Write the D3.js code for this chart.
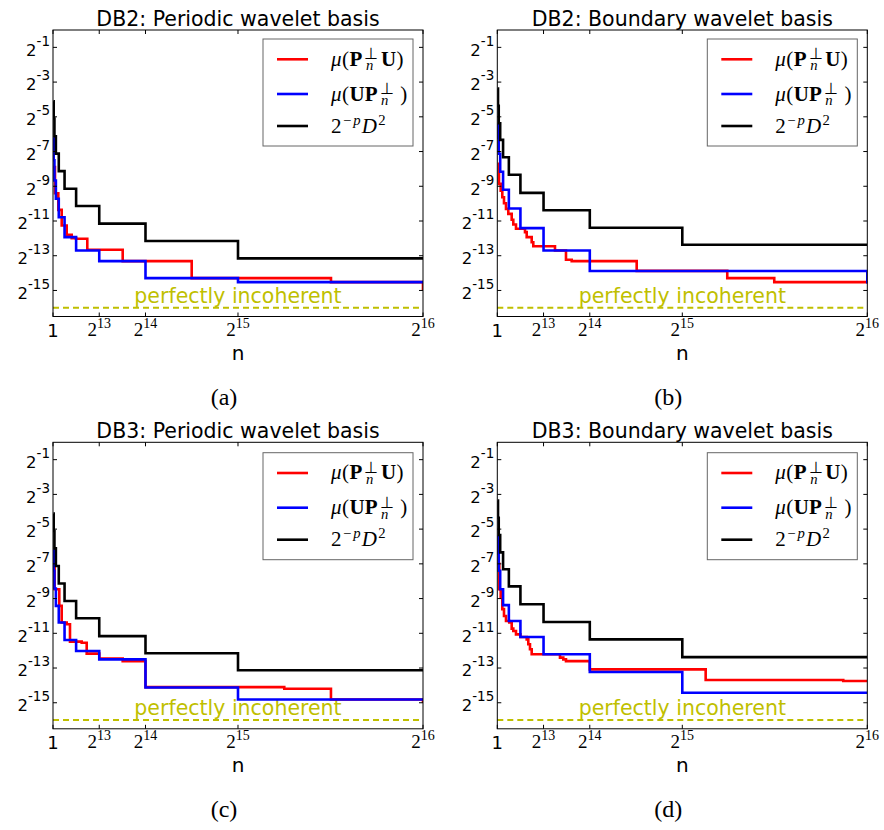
<!DOCTYPE html>
<html><head><meta charset="utf-8">
<script src="https://cdn.jsdelivr.net/npm/d3@7"></script>
<style>
body{margin:0;background:#fff;}
svg{display:block;}
</style></head><body>
<svg id="fig" width="884" height="830"></svg>
<script>
// Coherence of the truncated change-of-basis matrix against n.
// Each series is a step function: [n where a new level starts, log2 of the level].
const panelTitles = ["DB2: Periodic wavelet basis", "DB2: Boundary wavelet basis",
                     "DB3: Periodic wavelet basis", "DB3: Boundary wavelet basis"];
const panelTags = ["(a)", "(b)", "(c)", "(d)"];
const xTickExps = [13, 14, 15, 16];
const yTickExps = [-1, -3, -5, -7, -9, -11, -13, -15];
const nMax = 65536;
const incoherentExp = -16;
const incoherentLabel = "perfectly incoherent";

const db2PeriodicRed = [[64,-7.9],[354,-9.40],[940,-10.36],[1541,-11.26],[2427,-11.79],[3312,-11.99],[4074,-12.02],[6075,-12.66],[12345,-13.31],[24565,-14.29],[49238,-14.52],[65536,-15.0]];
const db2PeriodicBlue = [[64,-6.2],[128,-7.5],[256,-8.67],[512,-9.72],[1024,-10.78],[2048,-11.93],[4096,-12.70],[8192,-13.31],[16384,-14.29],[32768,-14.52],[65536,-14.52]];
const db2PeriodicBound = [[64,-4.1],[128,-5.1],[256,-6.12],[512,-7.12],[1024,-8.13],[2048,-9.14],[4096,-10.14],[8192,-11.15],[16384,-12.15],[32768,-13.15],[65536,-13.15]];

const db2BoundaryRed = [[64,-7.7],[301,-8.86],[602,-9.25],[886,-9.63],[1187,-9.98],[1541,-10.30],[1948,-10.59],[2550,-10.93],[2834,-11.20],[3312,-11.45],[4906,-11.64],[5207,-11.93],[6092,-12.22],[6376,-12.45],[10219,-12.70],[12167,-13.23],[13176,-13.31],[24687,-13.87],[40733,-14.29],[49057,-14.52],[65536,-14.6]];
const db2BoundaryBlue = [[64,-5.4],[128,-6.2],[256,-7.13],[512,-8.16],[1024,-9.2],[2048,-10.28],[4096,-11.41],[8192,-12.70],[16384,-13.88],[65536,-14.6]];
const db2BoundaryBound = [[64,-3.37],[128,-4.37],[256,-5.37],[512,-6.33],[1024,-7.33],[2048,-8.34],[4096,-9.38],[8192,-10.38],[16384,-11.39],[32768,-12.37],[65536,-12.37]];

const db3PeriodicRed = [[64,-7.2],[300,-8.46],[1116,-9.42],[1541,-10.38],[2427,-10.48],[3011,-11.48],[5083,-11.54],[5968,-12.17],[8200,-12.46],[12344,-12.60],[16384,-14.10],[40964,-14.19],[49233,-14.81],[65536,-15.0]];
const db3PeriodicBlue = [[64,-6.2],[128,-7.4],[256,-8.42],[512,-9.42],[1024,-10.38],[2048,-11.39],[4096,-12.02],[8192,-12.50],[16384,-14.12],[32768,-14.81],[65536,-14.81]];
const db3PeriodicBound = [[64,-4.11],[128,-5.11],[256,-6.11],[512,-7.12],[1024,-8.13],[2048,-9.14],[4096,-10.13],[8192,-11.16],[16384,-12.15],[32768,-13.13],[65536,-13.13]];

const db3BoundaryRed = [[64,-7.0],[354,-8.46],[602,-8.94],[886,-9.61],[1187,-10.0],[1541,-10.29],[2125,-10.38],[2550,-10.73],[2834,-10.87],[3312,-11.06],[4096,-11.21],[5207,-11.35],[5490,-11.63],[5791,-11.92],[6092,-12.21],[11104,-12.40],[11689,-12.50],[12167,-12.60],[16384,-13.08],[36908,-13.69],[61277,-13.75],[65536,-13.75]];
const db3BoundaryBlue = [[64,-5.4],[128,-6.4],[256,-7.40],[512,-8.46],[1024,-9.38],[2048,-10.29],[4096,-11.21],[8192,-12.21],[16384,-13.23],[32768,-14.42],[65536,-14.42]];
const db3BoundaryBound = [[64,-3.35],[128,-4.35],[256,-5.34],[512,-6.34],[1024,-7.31],[2048,-8.30],[4096,-9.33],[8192,-10.35],[16384,-11.35],[32768,-12.37],[65536,-12.37]];

const panelSeries = [
  [db2PeriodicRed, db2PeriodicBlue, db2PeriodicBound],
  [db2BoundaryRed, db2BoundaryBlue, db2BoundaryBound],
  [db3PeriodicRed, db3PeriodicBlue, db3PeriodicBound],
  [db3BoundaryRed, db3BoundaryBlue, db3BoundaryBound]
];

// Legend entries as math tokens: [role, text(, subscript)]
const legendLabels = [
  [["greek","μ"],["rm","("],["bf","P"],["stack","⊥","n"],["bf","U"],["rm",")"]],
  [["greek","μ"],["rm","("],["bf","UP"],["stack","⊥","n"],["rm","\u2009)"]],
  [["rm","2"],["sup","−"],["supit","p"],["it","D"],["sup","2"]]
];

// ---- drawing ----
const seriesColors = ["#ff0000", "#0000ff", "#000000"];
const W = 370, H = 286.5;
const origins = [[53, 30], [497.3, 30], [53, 442.3], [497.3, 442.3]];
const SANS = "DejaVu Sans, Verdana, sans-serif";
const SERIF = "Liberation Serif, Times New Roman, serif";

const svg = d3.select("#fig");

// Lays out a small math expression as one text element, one tspan per token.
function drawMath(g, x0, y0, tokens, size) {
  const txt = g.append("text").attr("font-family", SERIF).attr("font-size", size);
  let x = x0;
  const put = (str, px, py, opts) => {
    const s = txt.append("tspan").attr("x", px).attr("y", py).text(str);
    if (opts.size) s.attr("font-size", opts.size);
    if (opts.bold) s.attr("font-weight", "bold");
    if (opts.italic) s.attr("font-style", "italic");
    return s.node().getComputedTextLength();
  };
  tokens.forEach(tok => {
    const role = tok[0];
    if (role === "stack") {
      x += 1.5;
      const wa = put(tok[1], x, y0 - 6.5, { size: size * 0.75 });
      const wb = put(tok[2], x + 1.5, y0 + 4.5, { size: size * 0.7, italic: true });
      x += Math.max(wa, wb + 1.5) + 2.5;
      return;
    }
    const isSup = role === "sup" || role === "supit";
    if (isSup) x += 1;
    const w = put(tok[1], x, isSup ? y0 - 8 : y0, {
      size: isSup ? size * 0.7 : null,
      bold: role === "bf",
      italic: role === "it" || role === "supit" || role === "greek"
    });
    x += w + (isSup ? 1 : 0.5);
  });
}

panelSeries.forEach((series, pi) => {
  const [ox, oy] = origins[pi];
  const g = svg.append("g").attr("transform", `translate(${ox},${oy})`);

  const x = d3.scaleLinear().domain([1, nMax]).range([0, W]);
  const y = d3.scaleLog().base(2).domain([2 ** -16.5, 1]).range([H, 0]);

  const clipId = "clip" + pi;
  g.append("clipPath").attr("id", clipId).append("rect")
    .attr("x", 0).attr("y", 0).attr("width", W).attr("height", H);

  // reference level for a perfectly incoherent basis
  g.append("line")
    .attr("x1", 0).attr("x2", W)
    .attr("y1", y(2 ** incoherentExp)).attr("y2", y(2 ** incoherentExp))
    .attr("stroke", "#bfbf00").attr("stroke-width", 2)
    .attr("stroke-dasharray", "6,4");
  g.append("text")
    .attr("x", x(nMax / 2)).attr("y", y(2 ** incoherentExp) - 5)
    .attr("text-anchor", "middle")
    .attr("font-family", SANS).attr("font-size", 20.5)
    .attr("fill", "#bfbf00")
    .text(incoherentLabel);

  // step curves
  const line = d3.line()
    .x(d => x(d[0]))
    .y(d => y(2 ** d[1]))
    .curve(d3.curveStepAfter);
  const lines = g.append("g").attr("clip-path", `url(#${clipId})`);
  series.forEach((s, si) => {
    lines.append("path")
      .attr("d", line(s))
      .attr("fill", "none")
      .attr("stroke", seriesColors[si])
      .attr("stroke-width", 2.6)
      .attr("stroke-linejoin", "miter");
  });

  // frame
  g.append("rect").attr("x", 0).attr("y", 0).attr("width", W).attr("height", H)
    .attr("fill", "none").attr("stroke", "#000").attr("stroke-width", 1);

  // inward ticks on all four sides
  const tk = 4;
  const xTickVals = [1].concat(xTickExps.map(e => 2 ** e));
  xTickVals.forEach(v => {
    g.append("line").attr("x1", x(v)).attr("x2", x(v)).attr("y1", H).attr("y2", H - tk)
      .attr("stroke", "#000");
    g.append("line").attr("x1", x(v)).attr("x2", x(v)).attr("y1", 0).attr("y2", tk)
      .attr("stroke", "#000");
  });
  yTickExps.forEach(e => {
    const yy = y(2 ** e);
    g.append("line").attr("x1", 0).attr("x2", tk).attr("y1", yy).attr("y2", yy).attr("stroke", "#000");
    g.append("line").attr("x1", W).attr("x2", W - tk).attr("y1", yy).attr("y2", yy).attr("stroke", "#000");
  });

  // x tick labels
  g.append("text").attr("x", x(1)).attr("y", H + 20)
    .attr("text-anchor", "middle").attr("font-family", SANS).attr("font-size", 18)
    .text("1");
  xTickExps.forEach(e => {
    const t = g.append("text").attr("x", x(2 ** e)).attr("y", H + 19.7)
      .attr("text-anchor", "middle").attr("font-family", SERIF).attr("font-size", 19);
    t.append("tspan").text("2");
    t.append("tspan").attr("dy", -8).attr("font-size", 14).text(String(e));
  });

  // y tick labels
  yTickExps.forEach(e => {
    const t = g.append("text").attr("x", -3).attr("y", y(2 ** e) + 8.3)
      .attr("text-anchor", "end").attr("font-family", SANS).attr("font-size", 16.5);
    t.append("tspan").text("2");
    t.append("tspan").attr("dy", -10).attr("font-size", 13.5).text(String(e));
  });

  // title, axis label, panel tag
  g.append("text").attr("x", W / 2).attr("y", -4)
    .attr("text-anchor", "middle").attr("font-family", SANS).attr("font-size", 20.5)
    .text(panelTitles[pi]);
  g.append("text").attr("x", W / 2).attr("y", H + 43)
    .attr("text-anchor", "middle").attr("font-family", SANS).attr("font-size", 20)
    .text("n");
  g.append("text").attr("x", W / 2 - 14).attr("y", H + 88)
    .attr("text-anchor", "middle").attr("font-family", SERIF).attr("font-size", 24)
    .text(panelTags[pi]);

  // legend
  const lg = g.append("g").attr("transform", `translate(${210},${pi < 2 ? 9 : 10.4})`);
  lg.append("rect").attr("x", 0).attr("y", 0).attr("width", 150).attr("height", 107)
    .attr("fill", "#fff").attr("stroke", "#666").attr("stroke-width", 1);
  const rowY = [20.3, 55, 87];
  legendLabels.forEach((tokens, li) => {
    lg.append("line").attr("x1", 14).attr("x2", 45).attr("y1", rowY[li]).attr("y2", rowY[li])
      .attr("stroke", seriesColors[li]).attr("stroke-width", 2.6);
    drawMath(lg, 68, rowY[li] + 6.5, tokens, 21);
  });
});
</script>
</body></html>
